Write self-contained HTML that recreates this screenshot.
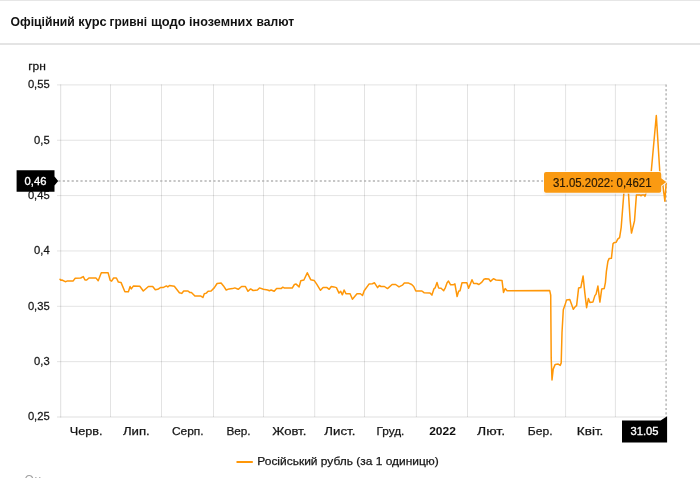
<!DOCTYPE html>
<html lang="uk"><head><meta charset="utf-8"><title>Офіційний курс гривні щодо іноземних валют</title>
<style>
html,body{margin:0;padding:0;background:#fff;}
body{width:700px;height:478px;overflow:hidden;position:relative;font-family:"Liberation Sans",Arial,sans-serif;}
.hdr{position:absolute;left:0;top:0;width:700px;height:42px;border-top:1px solid #e6e6e6;border-bottom:2px solid #e4e4e4;background:#fff;}
svg{position:absolute;left:0;top:0;}
text{font-family:"Liberation Sans",Arial,sans-serif;}
</style></head><body>
<div class="hdr"></div>
<svg width="700" height="478" viewBox="0 0 700 478">
<text y="25.7" style="font-size:13.3px;font-weight:bold;fill:#111"><tspan x="10.5" textLength="64.3" lengthAdjust="spacingAndGlyphs">Офіційний</tspan> <tspan x="78.3" textLength="28.4" lengthAdjust="spacingAndGlyphs">курс</tspan> <tspan x="109.6" textLength="37.5" lengthAdjust="spacingAndGlyphs">гривні</tspan> <tspan x="151.1" textLength="34.4" lengthAdjust="spacingAndGlyphs">щодо</tspan> <tspan x="189.0" textLength="63.4" lengthAdjust="spacingAndGlyphs">іноземних</tspan> <tspan x="256.5" textLength="37.6" lengthAdjust="spacingAndGlyphs">валют</tspan></text>
<g stroke="#000" stroke-opacity="0.11" stroke-width="1" fill="none"><line x1="110.5" y1="84.4" x2="110.5" y2="417"/><line x1="161.5" y1="84.4" x2="161.5" y2="417"/><line x1="213.5" y1="84.4" x2="213.5" y2="417"/><line x1="263.5" y1="84.4" x2="263.5" y2="417"/><line x1="314.7" y1="84.4" x2="314.7" y2="417"/><line x1="364.5" y1="84.4" x2="364.5" y2="417"/><line x1="416.4" y1="84.4" x2="416.4" y2="417"/><line x1="467.5" y1="84.4" x2="467.5" y2="417"/><line x1="514.4" y1="84.4" x2="514.4" y2="417"/><line x1="565.6" y1="84.4" x2="565.6" y2="417"/><line x1="615.4" y1="84.4" x2="615.4" y2="417"/><line x1="57" y1="84.9" x2="666" y2="84.9"/><line x1="57" y1="140.25" x2="666" y2="140.25"/><line x1="57" y1="195.6" x2="666" y2="195.6"/><line x1="57" y1="250.95" x2="666" y2="250.95"/><line x1="57" y1="306.3" x2="666" y2="306.3"/><line x1="57" y1="361.65" x2="666" y2="361.65"/></g>
<g stroke="#000" stroke-opacity="0.125" stroke-width="1" fill="none"><line x1="60.7" y1="84.4" x2="60.7" y2="417.5"/><line x1="57" y1="417" x2="666" y2="417"/></g>
<text transform="translate(28.2,70.1) scale(1.02,1)" text-anchor="start" style="font-size:11.8px;fill:#151515;stroke:#151515;stroke-width:0.25px;">грн</text>
<text transform="translate(49.7,88.4) scale(0.95,1)" text-anchor="end" style="font-size:11.8px;fill:#151515;stroke:#151515;stroke-width:0.25px;">0,55</text>
<text transform="translate(49.7,143.7) scale(0.95,1)" text-anchor="end" style="font-size:11.8px;fill:#151515;stroke:#151515;stroke-width:0.25px;">0,5</text>
<text transform="translate(49.7,199.0) scale(0.95,1)" text-anchor="end" style="font-size:11.8px;fill:#151515;stroke:#151515;stroke-width:0.25px;">0,45</text>
<text transform="translate(49.7,254.4) scale(0.95,1)" text-anchor="end" style="font-size:11.8px;fill:#151515;stroke:#151515;stroke-width:0.25px;">0,4</text>
<text transform="translate(49.7,309.8) scale(0.95,1)" text-anchor="end" style="font-size:11.8px;fill:#151515;stroke:#151515;stroke-width:0.25px;">0,35</text>
<text transform="translate(49.7,365.1) scale(0.95,1)" text-anchor="end" style="font-size:11.8px;fill:#151515;stroke:#151515;stroke-width:0.25px;">0,3</text>
<text transform="translate(49.7,420.4) scale(0.95,1)" text-anchor="end" style="font-size:11.8px;fill:#151515;stroke:#151515;stroke-width:0.25px;">0,25</text>
<text x="69.8" y="434.5" textLength="32.8" lengthAdjust="spacingAndGlyphs" style="font-size:11.8px;fill:#151515;stroke:#151515;stroke-width:0.25px">Черв.</text>
<text x="122.9" y="434.5" textLength="26.9" lengthAdjust="spacingAndGlyphs" style="font-size:11.8px;fill:#151515;stroke:#151515;stroke-width:0.25px">Лип.</text>
<text x="171.9" y="434.5" textLength="31.7" lengthAdjust="spacingAndGlyphs" style="font-size:11.8px;fill:#151515;stroke:#151515;stroke-width:0.25px">Серп.</text>
<text x="226.4" y="434.5" textLength="24.2" lengthAdjust="spacingAndGlyphs" style="font-size:11.8px;fill:#151515;stroke:#151515;stroke-width:0.25px">Вер.</text>
<text x="272.2" y="434.5" textLength="34.1" lengthAdjust="spacingAndGlyphs" style="font-size:11.8px;fill:#151515;stroke:#151515;stroke-width:0.25px">Жовт.</text>
<text x="324.3" y="434.5" textLength="31.1" lengthAdjust="spacingAndGlyphs" style="font-size:11.8px;fill:#151515;stroke:#151515;stroke-width:0.25px">Лист.</text>
<text x="376.5" y="434.5" textLength="27.9" lengthAdjust="spacingAndGlyphs" style="font-size:11.8px;fill:#151515;stroke:#151515;stroke-width:0.25px">Груд.</text>
<text x="429.2" y="434.5" textLength="26.7" lengthAdjust="spacingAndGlyphs" style="font-size:11.8px;font-weight:bold;fill:#111">2022</text>
<text x="477.0" y="434.5" textLength="28.0" lengthAdjust="spacingAndGlyphs" style="font-size:11.8px;fill:#151515;stroke:#151515;stroke-width:0.25px">Лют.</text>
<text x="527.8" y="434.5" textLength="24.8" lengthAdjust="spacingAndGlyphs" style="font-size:11.8px;fill:#151515;stroke:#151515;stroke-width:0.25px">Бер.</text>
<text x="576.8" y="434.5" textLength="26.6" lengthAdjust="spacingAndGlyphs" style="font-size:11.8px;fill:#151515;stroke:#151515;stroke-width:0.25px">Квіт.</text>
<line x1="58.3" y1="181" x2="545" y2="181" stroke="#b4b4b4" stroke-width="1.3" stroke-dasharray="2.2 2.23"/>
<line x1="666.1" y1="84.5" x2="666.1" y2="417" stroke="#b2b2b2" stroke-width="1.4" stroke-dasharray="2.2 2.23"/>
<path d="M60.0,279.3 L60.8,280.2 L61.9,280.0 L65.3,281.7 L67.0,281.1 L73.0,281.1 L75.2,278.3 L80.7,278.0 L83.3,276.6 L85.0,280.0 L86.7,280.0 L88.9,278.0 L96.1,278.1 L98.2,280.7 L101.3,272.8 L108.1,272.8 L110.2,280.4 L111.6,281.1 L113.6,278.0 L116.4,278.0 L118.4,282.1 L121.0,282.4 L124.9,291.7 L128.4,291.7 L130.1,286.5 L131.3,288.9 L133.5,285.9 L139.8,286.2 L143.3,291.0 L148.4,286.5 L152.7,286.5 L155.3,289.8 L157.8,289.3 L160.4,287.6 L163.0,287.6 L166.4,285.9 L167.8,286.9 L169.5,285.5 L174.3,286.2 L179.4,292.7 L181.7,293.4 L183.7,291.0 L188.0,291.0 L189.7,292.4 L191.4,292.4 L194.9,296.1 L200.9,296.1 L202.9,297.5 L204.3,293.7 L206.3,293.1 L208.1,291.3 L211.1,291.0 L214.2,287.9 L217.1,283.5 L221.1,283.1 L223.5,285.9 L226.2,290.0 L229.1,288.9 L232.6,288.6 L234.8,287.9 L238.2,289.3 L241.6,286.5 L245.4,286.5 L248.0,291.3 L250.6,288.9 L253.1,290.5 L257.4,290.1 L259.5,287.9 L263.4,289.3 L267.7,290.0 L269.4,290.7 L271.1,290.0 L274.2,291.3 L276.6,288.6 L281.1,288.6 L282.8,287.2 L284.5,288.1 L292.2,288.1 L294.4,284.5 L296.1,284.1 L299.1,286.9 L300.8,280.7 L303.9,280.0 L307.3,272.8 L310.7,279.7 L314.1,280.4 L316.7,284.1 L320.5,290.3 L323.1,287.6 L327.0,287.6 L329.2,289.3 L331.3,286.5 L333.9,286.9 L336.4,287.6 L339.0,293.1 L340.7,291.3 L342.4,294.8 L344.1,290.0 L345.9,293.7 L350.1,293.7 L352.4,299.2 L357.0,293.7 L360.4,293.7 L362.5,295.5 L364.2,290.7 L369.0,284.1 L372.4,283.8 L374.5,282.8 L377.6,287.6 L379.3,285.5 L381.0,286.5 L384.4,286.5 L387.5,288.6 L392.1,284.5 L395.6,284.5 L399.0,286.9 L402.4,285.2 L404.3,283.1 L408.6,283.1 L411.7,284.5 L413.7,286.5 L415.8,291.0 L421.9,291.0 L424.0,292.7 L430.0,293.1 L431.9,295.1 L433.9,288.9 L435.1,287.9 L437.0,282.4 L438.6,287.9 L441.1,288.3 L443.7,290.7 L445.4,287.6 L447.1,282.8 L448.5,281.1 L450.6,284.8 L453.1,284.8 L454.9,283.8 L457.1,296.5 L458.6,291.3 L460.0,290.7 L462.0,282.8 L466.9,282.8 L468.6,288.3 L470.3,284.1 L472.0,279.7 L473.7,283.5 L476.8,283.5 L478.9,284.5 L481.9,282.1 L484.0,279.3 L485.7,278.7 L488.8,279.0 L490.5,281.4 L493.4,278.7 L496.0,280.0 L502.0,280.4 L503.5,292.4 L505.2,288.6 L507.1,290.7 L549.7,290.6 L550.7,295.1 L551.2,357.9 L552.0,379.9 L553.2,369.1 L555.2,364.4 L558.2,364.1 L560.2,365.4 L561.2,362.9 L562.0,332.8 L563.3,309.7 L564.8,305.6 L566.5,300.1 L569.8,299.6 L573.3,309.2 L575.3,306.6 L576.6,305.6 L578.6,288.1 L580.8,287.6 L583.1,276.0 L584.8,292.6 L586.6,307.7 L588.4,298.6 L589.9,302.6 L592.9,302.1 L594.9,295.6 L596.1,294.1 L597.9,286.1 L599.9,302.1 L601.7,289.1 L604.2,288.6 L605.4,282.6 L606.4,271.4 L607.9,261.4 L609.1,258.6 L611.4,258.3 L613.0,243.8 L613.9,242.8 L616.2,242.3 L617.7,239.1 L619.6,237.6 L621.2,227.3 L623.8,193.9 L625.2,180.0 L626.5,178.0 L628.5,193.9 L630.2,220.9 L631.5,233.1 L634.5,220.9 L636.4,195.1 L639.9,194.9 L641.1,195.8 L641.8,194.9 L644.4,195.1 L645.0,196.4 L647.0,190.0 L651.2,172.0 L656.3,115.5 L659.8,172.0 L662.9,185.7 L664.9,201.2 L666.2,182.3" fill="none" stroke="#ff9708" stroke-width="1.5" stroke-linejoin="round" stroke-linecap="round"/>
<path d="M16.6,170.3 H54.5 V176.4 L58.2,181 L54.5,185.6 V191.8 H16.6 Z" fill="#000"/>
<text transform="translate(35.5,184.7) scale(0.95,1)" text-anchor="middle" style="font-size:11.8px;fill:#fff;stroke:#fff;stroke-width:0.35px;">0,46</text>
<path d="M622,420.6 H660.6 L667.1,416.2 V442.5 H622 Z" fill="#000"/>
<text transform="translate(644.5,435.0) scale(0.95,1)" text-anchor="middle" style="font-size:11.8px;fill:#fff;stroke:#fff;stroke-width:0.35px;">31.05</text>
<defs><filter id="sh" x="-10%" y="-30%" width="120%" height="170%"><feGaussianBlur stdDeviation="1.3"/></filter></defs>
<path d="M546,171.9 H659.2 a2,2 0 0 1 2,2 V178.2 L666.3,182 L661.2,185.7 V190.7 a2,2 0 0 1 -2,2 H546 a2,2 0 0 1 -2,-2 V173.9 a2,2 0 0 1 2,-2 Z" fill="#334" opacity="0.22" filter="url(#sh)" transform="translate(0.5,1.2)"/>
<path d="M546,171.9 H659.2 a2,2 0 0 1 2,2 V178.2 L666.3,182 L661.2,185.7 V190.7 a2,2 0 0 1 -2,2 H546 a2,2 0 0 1 -2,-2 V173.9 a2,2 0 0 1 2,-2 Z" fill="#fa9a12" stroke="#fff" stroke-width="2" stroke-opacity="0.85" paint-order="stroke" stroke-linejoin="round"/>
<text x="553" y="187" textLength="98.5" lengthAdjust="spacingAndGlyphs" style="font-size:12px;fill:#2a1a05;stroke:#2a1a05;stroke-width:0.2px">31.05.2022: 0,4621</text>
<line x1="236.5" y1="462" x2="252.8" y2="462" stroke="#ff9708" stroke-width="2"/>
<text x="257.3" y="464.5" textLength="181.5" lengthAdjust="spacingAndGlyphs" style="font-size:11.8px;fill:#151515;stroke:#151515;stroke-width:0.25px">Російський рубль (за 1 одиницю)</text>
<text x="24.6" y="483.9" style="font-size:12px;fill:#a0a0a0;letter-spacing:0.5px;word-spacing:0">Он</text>
</svg>
</body></html>
